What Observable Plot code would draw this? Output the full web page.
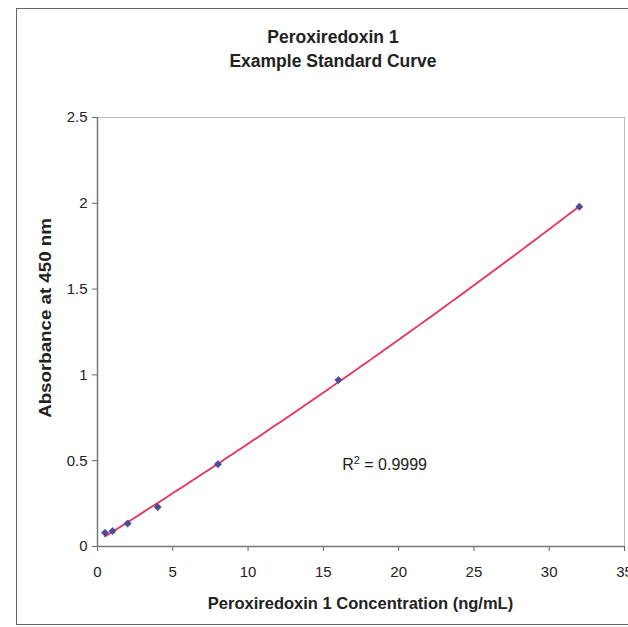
<!DOCTYPE html>
<html>
<head>
<meta charset="utf-8">
<script src="https://cdn.jsdelivr.net/npm/d3@7"></script>
<script src="https://cdn.jsdelivr.net/npm/@observablehq/plot@0.6"></script>
<style>
  html, body { margin: 0; padding: 0; background: #fff; width: 628px; height: 627px; overflow: hidden; }
  #frame { position: absolute; left: 16px; top: 8px; width: 700px; height: 615px; border: 1.5px solid #666; border-right: none; }
  .title { position: absolute; left: 0; width: 666px; text-align: center; font-family: "Liberation Sans", Arial, sans-serif; font-weight: bold; font-size: 17.5px; color: #222; transform: scaleY(1.08); }
  #chart { position: absolute; left: 0; top: 95px; }
</style>
</head>
<body>
<div id="frame"></div>
<div class="title" style="top:27px">Peroxiredoxin 1</div>
<div class="title" style="top:51px">Example Standard Curve</div>
<div id="chart"></div>
<script>
const concentration = [0.5, 1, 2, 4, 8, 16, 32];
const absorbance = [0.08, 0.09, 0.134, 0.23, 0.48, 0.97, 1.98];
const xTicks = [0, 5, 10, 15, 20, 25, 30, 35];
const yTicks = [0, 0.5, 1, 1.5, 2, 2.5];
const rSquaredValue = "0.9999";

const points = concentration.map((c, i) => ({x: c, y: absorbance[i]}));

// 2nd-order polynomial trendline (least squares), as in the spreadsheet chart
function polyFit(xs, ys) {
  const n = xs.length;
  let s0 = n, s1 = 0, s2 = 0, s3 = 0, s4 = 0, t0 = 0, t1 = 0, t2 = 0;
  for (let i = 0; i < n; i++) {
    const x = xs[i], y = ys[i];
    s1 += x; s2 += x * x; s3 += x ** 3; s4 += x ** 4;
    t0 += y; t1 += x * y; t2 += x * x * y;
  }
  const A = [[s0, s1, s2, t0], [s1, s2, s3, t1], [s2, s3, s4, t2]];
  for (let i = 0; i < 3; i++) {
    for (let k = i + 1; k < 3; k++) {
      const f = A[k][i] / A[i][i];
      for (let j = i; j < 4; j++) A[k][j] -= f * A[i][j];
    }
  }
  const c = [0, 0, 0];
  for (let i = 2; i >= 0; i--) {
    let s = A[i][3];
    for (let j = i + 1; j < 3; j++) s -= A[i][j] * c[j];
    c[i] = s / A[i][i];
  }
  return c;
}
const coef = polyFit(concentration, absorbance);
const xMin = d3.min(concentration), xMax = d3.max(concentration);
const fit = d3.range(0, 101).map(i => {
  const x = xMin + (xMax - xMin) * i / 100;
  return {x, y: coef[0] + coef[1] * x + coef[2] * x * x};
});

const font = '"Liberation Sans", Arial, sans-serif';
const plot = Plot.plot({
  width: 628,
  height: 532,
  marginLeft: 97,
  marginRight: 4,
  marginTop: 22,
  marginBottom: 81,
  style: {fontFamily: font, fontSize: "15px", color: "#222", background: "transparent", overflow: "visible"},
  x: {domain: [0, 35], label: null},
  y: {domain: [0, 2.5], label: null},
  marks: [
    Plot.frame({stroke: "#bbb", strokeWidth: 1}),
    Plot.axisX({ticks: xTicks, tickSize: 5, tickPadding: 15, label: null, stroke: "#666", fontSize: 15}),
    Plot.axisY({ticks: yTicks, tickSize: 5, tickPadding: 5, label: null, stroke: "#666", fontSize: 15, tickFormat: d => String(d)}),
    Plot.ruleX([0], {stroke: "#777", strokeWidth: 1.5}),
    Plot.ruleY([0], {stroke: "#777", strokeWidth: 1.5}),
    Plot.line(fit, {x: "x", y: "y", stroke: "#e8315b", strokeWidth: 1.8}),
    Plot.dot(points, {x: "x", y: "y", symbol: "square", rotate: 45, r: 2.9, fill: "#4a4a98", stroke: "#4a4a98", strokeWidth: 0.6})
  ]
});

const svg = d3.select(plot);
const sx = plot.scale("x"), sy = plot.scale("y");
const r2 = svg.append("text")
  .attr("x", sx.apply(19.1)).attr("y", sy.apply(0.47))
  .attr("dy", "0.32em")
  .attr("text-anchor", "middle")
  .attr("font-family", font).attr("font-size", 16).attr("fill", "#222");
r2.append("tspan").text("R");
r2.append("tspan").attr("font-size", 11).attr("dy", "-0.6em").text("2");
r2.append("tspan").attr("dy", "0.4em").text(" = " + rSquaredValue);

svg.append("text")
  .attr("x", (97 + 624) / 2).attr("y", 514)
  .attr("text-anchor", "middle")
  .attr("font-family", font).attr("font-weight", "bold").attr("font-size", 16.5).attr("fill", "#222")
  .text("Peroxiredoxin 1 Concentration (ng/mL)");
svg.append("text")
  .attr("transform", `translate(51, ${318 - 95}) rotate(-90) scale(1.17, 1)`)
  .attr("text-anchor", "middle")
  .attr("font-family", font).attr("font-weight", "bold").attr("font-size", 16).attr("fill", "#222")
  .text("Absorbance at 450 nm");

document.getElementById("chart").appendChild(plot);
</script>
</body>
</html>
